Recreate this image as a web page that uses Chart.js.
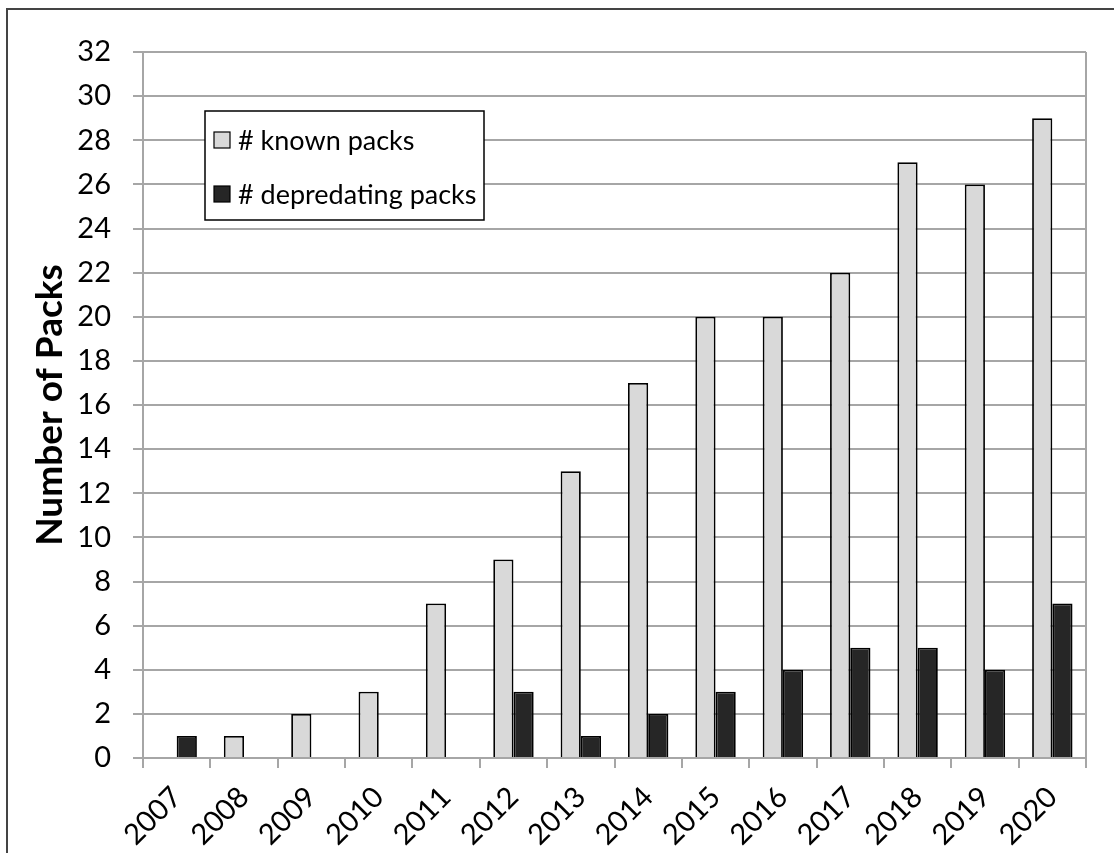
<!DOCTYPE html>
<html>
<head>
<meta charset="utf-8">
<script src="https://cdn.jsdelivr.net/npm/chart.js@4"></script>
<style>
  html, body { margin: 0; padding: 0; background: #fff; }
  #wrap { position: relative; width: 1114px; height: 853px; }
  #frame {
    position: absolute; left: 6px; top: 8px; right: -10px; bottom: -10px;
    border-top: 2px solid #444; border-left: 2px solid #444;
    pointer-events: none;
  }
  canvas { position: absolute; left: 0; top: 0; }
</style>
</head>
<body>
<div id="wrap">
  <canvas id="packChart" width="1114" height="853"></canvas>
  <div id="frame"></div>
</div>
<script>
const years = ["2007", "2008", "2009", "2010", "2011", "2012", "2013",
               "2014", "2015", "2016", "2017", "2018", "2019", "2020"];
const knownPacks = [0, 1, 2, 3, 7, 9, 13, 17, 20, 20, 22, 27, 26, 29];
const depredatingPacks = [1, 0, 0, 0, 0, 3, 1, 2, 3, 4, 5, 5, 4, 7];
const seriesNames = ["# known packs", "# depredating packs"];
const yTicks = [0, 2, 4, 6, 8, 10, 12, 14, 16, 18, 20, 22, 24, 26, 28, 30, 32];

const fontFamily = "Lato, 'Open Sans', sans-serif";
const lightFill = "#d9d9d9";
const darkFill = "#262626";
const gridColor = "#a6a6a6";

// legend box drawn inside the plot area, plus the right edge of the plot
const boxLegend = {
  id: "boxLegend",
  afterDraw(chart) {
    const ctx = chart.ctx;
    const area = chart.chartArea;
    ctx.save();
    // right border of plot area
    ctx.strokeStyle = gridColor;
    ctx.lineWidth = 2;
    ctx.beginPath();
    ctx.moveTo(area.right, area.top);
    ctx.lineTo(area.right, area.bottom);
    ctx.stroke();

    const x = area.left + 62, y = area.top + 59, w = 279, h = 109;
    ctx.fillStyle = "#fff";
    ctx.fillRect(x, y, w, h);
    ctx.strokeStyle = "#000";
    ctx.lineWidth = 1.5;
    ctx.strokeRect(x, y, w, h);

    const fills = [lightFill, darkFill];
    ctx.font = "27px " + fontFamily;
    ctx.textBaseline = "middle";
    seriesNames.forEach((name, i) => {
      const cy = y + 29 + i * 54;
      ctx.fillStyle = fills[i];
      ctx.fillRect(x + 9, cy - 8, 16, 16);
      ctx.strokeStyle = "#000";
      ctx.lineWidth = 1.2;
      ctx.strokeRect(x + 9, cy - 8, 16, 16);
      ctx.fillStyle = "#000";
      ctx.fillText(name, x + 33, cy + 1);
    });
    ctx.restore();
  }
};

new Chart(document.getElementById("packChart"), {
  type: "bar",
  data: {
    labels: years,
    datasets: [
      {
        label: seriesNames[0],
        data: knownPacks,
        backgroundColor: lightFill,
        borderColor: "#000",
        borderWidth: 1.8,
        borderSkipped: "bottom"
      },
      {
        label: seriesNames[1],
        data: depredatingPacks,
        backgroundColor: darkFill,
        borderColor: "#000",
        borderWidth: 1.8,
        borderSkipped: "bottom"
      }
    ]
  },
  options: {
    responsive: false,
    animation: false,
    devicePixelRatio: 1,
    layout: { padding: { top: 52, right: 28, left: 0, bottom: 0 } },
    datasets: { bar: { categoryPercentage: 0.6, barPercentage: 1.0 } },
    plugins: {
      legend: { display: false },
      tooltip: { enabled: false }
    },
    scales: {
      x: {
        grid: {
          display: true,
          offset: true,
          drawOnChartArea: false,
          drawTicks: true,
          tickLength: 10,
          color: gridColor,
          lineWidth: 2
        },
        border: { display: true, color: gridColor, width: 2 },
        ticks: {
          color: "#000",
          font: { family: fontFamily, size: 29 },
          maxRotation: 45,
          minRotation: 45,
          autoSkip: false,
          padding: 12
        },
        afterFit(scale) { scale.height = 95; }
      },
      y: {
        min: 0,
        max: 32,
        afterBuildTicks(scale) { scale.ticks = yTicks.map(v => ({ value: v })); },
        grid: {
          color: gridColor,
          lineWidth: 2,
          tickLength: 10
        },
        border: { display: true, color: gridColor, width: 2 },
        ticks: {
          color: "#000",
          font: { family: fontFamily, size: 29 },
          padding: 22
        },
        title: {
          display: true,
          text: "Number of Packs",
          color: "#000",
          font: { family: fontFamily, size: 37, weight: "bold" },
          padding: { top: 28, bottom: 0 }
        },
        afterFit(scale) { scale.width = 143; }
      }
    }
  },
  plugins: [boxLegend]
});
</script>
</body>
</html>
